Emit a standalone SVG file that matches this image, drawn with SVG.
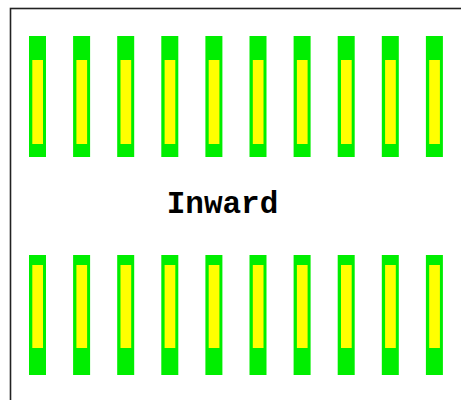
<svg xmlns="http://www.w3.org/2000/svg" width="461" height="400" viewBox="0 0 461 400">
<defs>
<style>
.g{fill:#00ee00}
.y{fill:#ffff00}
.t{font-family:"Liberation Mono","Courier New",monospace;font-weight:bold;font-size:31px;fill:#000}
</style>
<g id="top">
<rect class="g" x="0" y="36" width="17" height="121"/>
<rect class="y" x="3.3" y="60" width="10.7" height="84"/>
</g>
<g id="bot">
<rect class="g" x="0" y="255" width="17" height="120"/>
<rect class="y" x="3.3" y="265" width="10.7" height="83"/>
</g>
</defs>
<rect width="461" height="400" fill="#fff"/>
<rect x="10.5" y="8.5" width="470" height="420" fill="none" stroke="#222" stroke-width="1.6"/>
<g id="row-top">
<use href="#top" x="29"/><use href="#top" x="73.1"/><use href="#top" x="117.2"/><use href="#top" x="161.3"/><use href="#top" x="205.4"/><use href="#top" x="249.5"/><use href="#top" x="293.6"/><use href="#top" x="337.7"/><use href="#top" x="381.8"/><use href="#top" x="425.9"/>
</g>
<g id="row-bottom">
<use href="#bot" x="29"/><use href="#bot" x="73.1"/><use href="#bot" x="117.2"/><use href="#bot" x="161.3"/><use href="#bot" x="205.4"/><use href="#bot" x="249.5"/><use href="#bot" x="293.6"/><use href="#bot" x="337.7"/><use href="#bot" x="381.8"/><use href="#bot" x="425.9"/>
</g>
<g id="label">
<text class="t" x="222.5" y="213" text-anchor="middle">Inward</text>
</g>
</svg>
